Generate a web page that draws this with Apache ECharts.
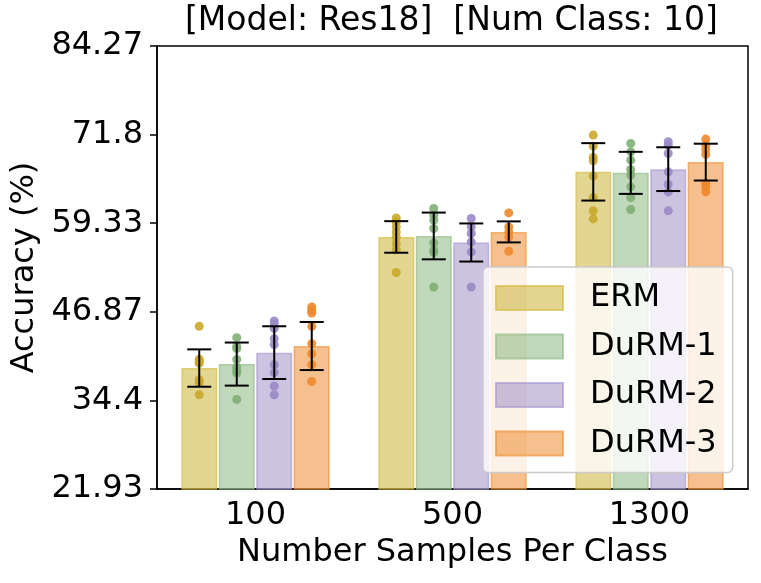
<!DOCTYPE html>
<html><head><meta charset="utf-8">
<script src="https://cdn.jsdelivr.net/npm/echarts@6/dist/echarts.min.js"></script>
<style>html,body{margin:0;padding:0;background:#fff}#c{width:761px;height:583px}</style>
</head><body><div id="c"></div>
<script>
// ---- data ----
const categories = ['100', '500', '1300'];
const seriesNames = ['ERM', 'DuRM-1', 'DuRM-2', 'DuRM-3'];
const yTicks = [21.93, 34.4, 46.87, 59.33, 71.8, 84.27];

const ermMean  = [38.95, 57.40, 66.56];
const durm1Mean = [39.51, 57.54, 66.42];
const durm2Mean = [41.12, 56.62, 66.94];
const durm3Mean = [42.05, 58.11, 67.93];

const ermStd   = [2.63, 2.22, 4.04];
const durm1Std = [3.03, 3.29, 2.96];
const durm2Std = [3.71, 2.68, 3.08];
const durm3Std = [3.38, 1.48, 2.59];

const ermPts = [
  [44.82, 40.2, 39.9, 39.6, 37.3, 36.9, 35.2],
  [60.08, 59.52, 58.81, 58.11, 57.40, 56.47, 55.6, 52.39],
  [71.73, 70.18, 68.59, 68.11, 65.95, 62.95, 61.07, 59.94]
];
const durm1Pts = [
  [43.23, 42.0, 41.68, 40.17, 39.09, 38.62, 38.24, 34.54],
  [61.41, 60.46, 59.76, 58.59, 56.56, 55.53, 55.2, 50.36],
  [70.56, 69.38, 68.21, 66.90, 66.1, 64.45, 62.95, 61.26]
];
const durm2Pts = [
  [45.57, 45.2, 44.5, 43.09, 42.25, 39.43, 38.3, 36.41, 35.2],
  [60.0, 58.81, 57.88, 56.7, 55.29, 50.36],
  [70.79, 70.32, 69.15, 66.56, 64.79, 63.74, 61.07]
];
const durm3Pts = [
  [47.54, 47.08, 46.70, 44.82, 42.38, 40.97, 39.43, 37.07],
  [60.78, 58.81, 58.11, 57.40, 55.39],
  [71.17, 70.32, 69.71, 69.01, 64.93, 64.45, 63.74]
];

// ---- styles ----
const means = [ermMean, durm1Mean, durm2Mean, durm3Mean];
const stds = [ermStd, durm1Std, durm2Std, durm3Std];
const pts = [ermPts, durm1Pts, durm2Pts, durm3Pts];
const barFill = ['rgba(199,173,39,0.5)', 'rgba(129,179,119,0.5)', 'rgba(151,135,193,0.5)', 'rgba(237,129,29,0.5)'];
const barEdge = ['rgba(214,190,70,0.7)', 'rgba(150,190,140,0.7)', 'rgba(170,155,210,0.7)', 'rgba(240,150,60,0.7)'];
const dotColor = ['#c9a82a', '#80af74', '#9a8bc6', '#f0882c'];
const BAR_W = 36, BAR_STEP = 37.5, CAP = 12;
const FONT = 'DejaVu Sans';

const series = [];
seriesNames.forEach((name, k) => {
  series.push({
    name, type: 'bar', data: means[k], barWidth: BAR_W, barGap: '4%',
    itemStyle: { color: barFill[k], borderColor: barEdge[k], borderWidth: 1.5 },
    clip: true, z: 2
  });
});
seriesNames.forEach((name, k) => {
  const d = [];
  pts[k].forEach((arr, c) => arr.forEach(v => d.push([c, v])));
  series.push({
    name: name + ' runs', type: 'scatter', data: d, symbolSize: 9,
    symbolOffset: [(k - 1.5) * BAR_STEP, 0],
    itemStyle: { color: dotColor[k], opacity: 0.9 }, z: 3, silent: true
  });
});
seriesNames.forEach((name, k) => {
  const d = means[k].map((m, c) => [c, m, stds[k][c]]);
  series.push({
    name: name + ' std', type: 'custom', data: d, z: 4, silent: true,
    renderItem: function (params, api) {
      const c = api.value(0), m = api.value(1), s = api.value(2);
      const off = (k - 1.5) * BAR_STEP;
      const top = api.coord([c, m + s]);
      const bot = api.coord([c, m - s]);
      const x = top[0] + off;
      const st = { stroke: '#000', lineWidth: 2 };
      return { type: 'group', children: [
        { type: 'line', shape: { x1: x, y1: top[1], x2: x, y2: bot[1] }, style: st },
        { type: 'line', shape: { x1: x - CAP, y1: top[1], x2: x + CAP, y2: top[1] }, style: st },
        { type: 'line', shape: { x1: x - CAP, y1: bot[1], x2: x + CAP, y2: bot[1] }, style: st }
      ] };
    }
  });
});

const chart = echarts.init(document.getElementById('c'), null, { renderer: 'canvas' });
chart.setOption({
  animation: false,
  textStyle: { fontFamily: FONT },
  title: {
    text: '[Model: Res18]  [Num Class: 10]', left: 180, top: 0,
    textStyle: { fontFamily: FONT, fontSize: 33, fontWeight: 'normal', color: '#000' }
  },
  grid: { left: 157, right: 13, top: 46, bottom: 94, show: true, borderColor: '#000', borderWidth: 1.5, backgroundColor: 'transparent' },
  legend: {
    data: seriesNames, orient: 'vertical', left: 483, top: 267,
    itemWidth: 67, itemHeight: 24, itemGap: 16.5, icon: 'rect',
    padding: [15, 16, 13, 12],
    backgroundColor: 'rgba(255,255,255,0.8)', borderColor: '#cccccc', borderWidth: 1.5, borderRadius: 5,
    textStyle: { fontFamily: FONT, fontSize: 32, color: '#000', padding: [0, 0, 0, 22] },
    selectedMode: false
  },
  xAxis: {
    type: 'category', data: categories,
    axisLine: { lineStyle: { color: '#000', width: 1.5 } },
    axisTick: { alignWithLabel: true, length: 7, lineStyle: { color: '#000', width: 1.5 } },
    axisLabel: { fontFamily: FONT, fontSize: 32, color: '#000', margin: 11 },
    name: 'Number Samples Per Class', nameLocation: 'middle', nameGap: 47,
    nameTextStyle: { fontFamily: FONT, fontSize: 32, color: '#000' }
  },
  yAxis: {
    type: 'value', min: yTicks[0], max: yTicks[yTicks.length - 1],
    splitLine: { show: false },
    axisLine: { show: true, lineStyle: { color: '#000', width: 1.5 } },
    axisTick: { show: true, length: 7, customValues: yTicks, lineStyle: { color: '#000', width: 1.5 } },
    axisLabel: { fontFamily: FONT, fontSize: 32, color: '#000', margin: 14, customValues: yTicks,
      formatter: v => String(+(+v).toFixed(2)) },
    name: 'Accuracy (%)', nameLocation: 'middle', nameGap: 100,
    nameTextStyle: { fontFamily: FONT, fontSize: 32, color: '#000' }
  },
  series
});
</script></body></html>
